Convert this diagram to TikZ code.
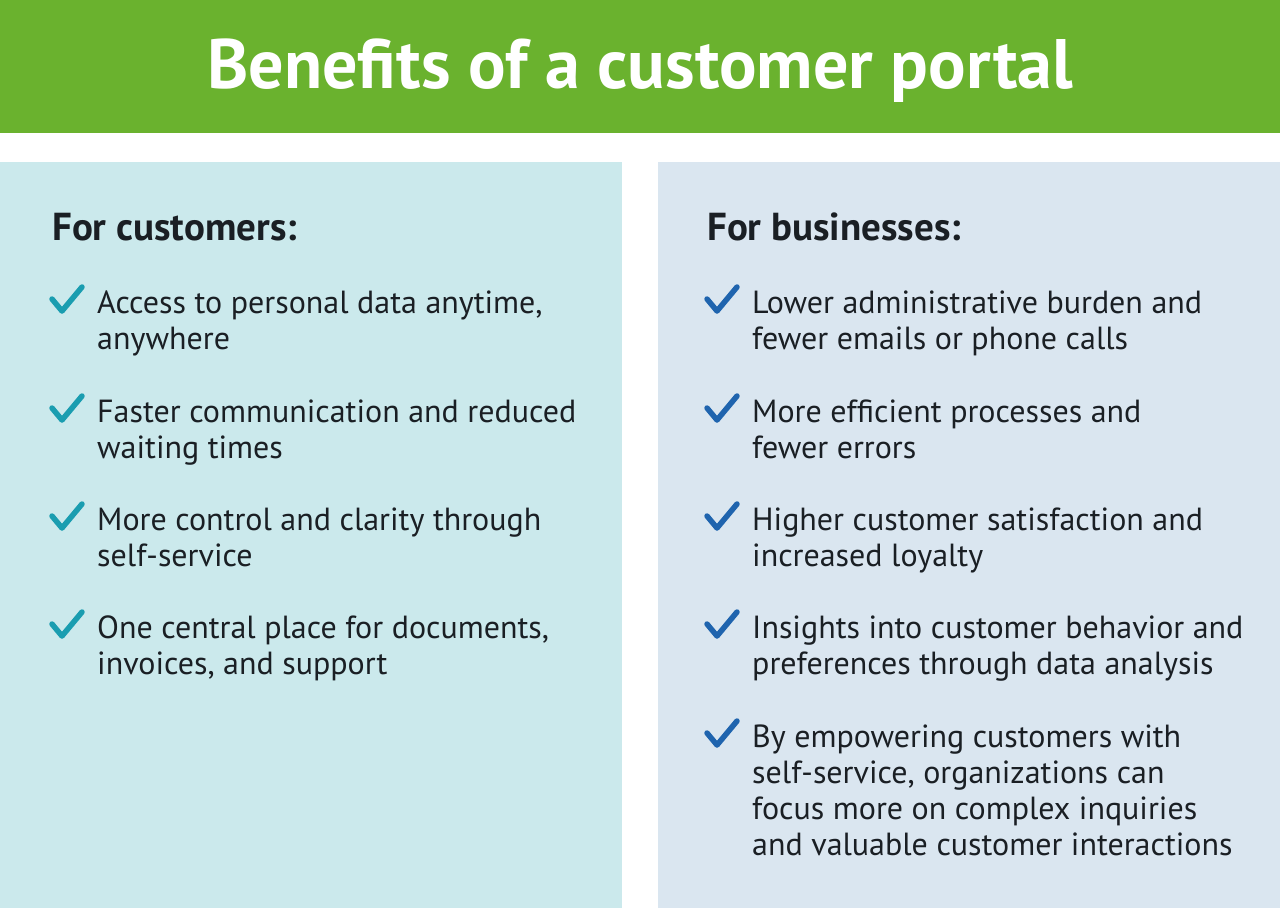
\documentclass[tikz,border=0pt]{standalone}
\usepackage{fontspec}
\setmainfont{PT Sans}
\definecolor{hdrgreen}{HTML}{6AB22E}
\definecolor{leftbg}{HTML}{CBE9EC}
\definecolor{rightbg}{HTML}{DAE6F0}
\definecolor{tealchk}{HTML}{1A9DB0}
\definecolor{bluechk}{HTML}{1F64AE}
\definecolor{ink}{HTML}{1A1F24}
\tikzset{
  item/.style={anchor=base west, align=left, inner sep=0pt, text=ink, font=\fontsize{32}{36}\selectfont},
  head/.style={anchor=base west, inner sep=0pt, text=ink, font=\bfseries\fontsize{39}{44}\selectfont},
  chk/.style={line width=5.5pt, line cap=round, line join=round},
}
\begin{document}
\begin{tikzpicture}[x=1pt,y=-1pt]
\useasboundingbox (0,0) rectangle (1280,908);
\fill[white] (0,0) rectangle (1280,908);
\fill[hdrgreen] (0,0) rectangle (1280,133);
\node[text=white, font=\bfseries\fontsize{70}{76}\selectfont, anchor=base, inner sep=0pt] (title) at (640,88) {Benefits of a customer portal};
\fill[leftbg] (0,162) rectangle (622,908);
\fill[rightbg] (658,162) rectangle (1280,908);
\node[head] (hl) at (52,240) {For customers:};
\node[head] (hr) at (707,240) {For businesses:};
% left items (y = first baseline, yl = last baseline)
\foreach \y/\yl/\t [count=\i] in {313/349/{Access to personal data anytime,\\anywhere},
  422/458/{Faster communication and reduced\\waiting times},
  530/566/{More control and clarity through\\self-service},
  638/674/{One central place for documents,\\invoices, and support}}{
  \draw[chk, tealchk] (52,\y-14) -- (62,\y-2) -- (82,\y-26);
  \node[item] (l\i) at (97,\yl) {\t};
}
\foreach \y/\yl/\t [count=\i] in {313/349/{Lower administrative burden and\\fewer emails or phone calls},
  422/458/{More efficient processes and\\fewer errors},
  530/566/{Higher customer satisfaction and\\increased loyalty},
  638/674/{Insights into customer behavior and\\preferences through data analysis},
  747/855/{By empowering customers with\\self-service, organizations can\\focus more on complex inquiries\\and valuable customer interactions}}{
  \draw[chk, bluechk] (707,\y-14) -- (717,\y-2) -- (737,\y-26);
  \node[item] (r\i) at (752,\yl) {\t};
}
\end{tikzpicture}
\end{document}
